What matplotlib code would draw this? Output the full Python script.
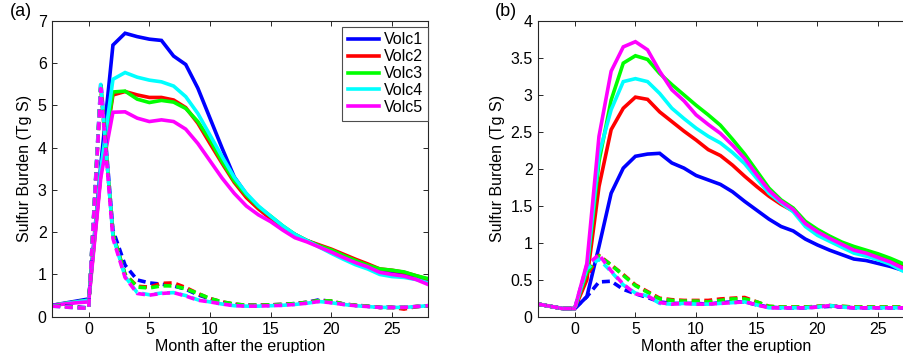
import matplotlib
matplotlib.use("Agg")
import matplotlib.pyplot as plt

plt.rcParams['font.family'] = ['Liberation Sans', 'DejaVu Sans']

months = list(range(-3, 29))
names = ['Volc1', 'Volc2', 'Volc3', 'Volc4', 'Volc5']
colors = ['#0000ff', '#ff0000', '#00ff00', '#00ffff', '#ff00ff']

# panel (a): solid lines
a_solid = [
    [0.27, 0.32, 0.37, 0.42, 3.6, 6.43, 6.71, 6.63, 6.57, 6.54, 6.17, 5.97, 5.41, 4.7, 3.99, 3.31,
     2.9, 2.58, 2.35, 2.12, 1.93, 1.8, 1.68, 1.52, 1.4, 1.28, 1.17, 1.06, 1.04, 1.0, 0.93, 0.82],
    [0.27, 0.31, 0.35, 0.39, 3.4, 5.25, 5.33, 5.25, 5.19, 5.19, 5.13, 4.95, 4.58, 4.1, 3.63, 3.18,
     2.82, 2.55, 2.32, 2.12, 1.95, 1.8, 1.7, 1.6, 1.48, 1.36, 1.25, 1.13, 1.1, 1.05, 0.97, 0.88],
    [0.27, 0.31, 0.35, 0.39, 3.4, 5.32, 5.34, 5.15, 5.07, 5.12, 5.08, 4.93, 4.62, 4.18, 3.67, 3.22,
     2.88, 2.6, 2.38, 2.15, 1.95, 1.8, 1.68, 1.58, 1.45, 1.33, 1.22, 1.13, 1.1, 1.06, 0.97, 0.9],
    [0.27, 0.31, 0.35, 0.39, 3.5, 5.62, 5.78, 5.67, 5.6, 5.56, 5.46, 5.21, 4.81, 4.3, 3.79, 3.3,
     2.92, 2.62, 2.38, 2.15, 1.95, 1.8, 1.65, 1.5, 1.36, 1.23, 1.13, 1.0, 0.95, 0.93, 0.88, 0.8],
    [0.27, 0.3, 0.33, 0.35, 3.3, 4.84, 4.85, 4.7, 4.62, 4.66, 4.62, 4.44, 4.1, 3.69, 3.28, 2.92,
     2.62, 2.41, 2.25, 2.05, 1.87, 1.77, 1.65, 1.53, 1.4, 1.28, 1.18, 1.05, 1.0, 0.96, 0.88, 0.76],
]

# panel (a): dashed lines
a_dash = [
    [0.27, 0.25, 0.23, 0.21, 5.55, 2.05, 1.22, 0.87, 0.8, 0.77, 0.73, 0.65, 0.52, 0.42, 0.34, 0.29,
     0.27, 0.27, 0.28, 0.29, 0.31, 0.34, 0.4, 0.36, 0.3, 0.27, 0.25, 0.22, 0.22, 0.22, 0.24, 0.26],
    [0.26, 0.24, 0.22, 0.2, 5.45, 1.95, 1.0, 0.72, 0.7, 0.79, 0.8, 0.69, 0.55, 0.43, 0.35, 0.3,
     0.27, 0.27, 0.28, 0.29, 0.31, 0.34, 0.38, 0.37, 0.3, 0.27, 0.25, 0.22, 0.22, 0.18, 0.24, 0.26],
    [0.26, 0.24, 0.22, 0.2, 5.45, 1.95, 1.0, 0.7, 0.68, 0.73, 0.73, 0.66, 0.55, 0.43, 0.35, 0.3,
     0.27, 0.27, 0.28, 0.29, 0.31, 0.34, 0.38, 0.37, 0.3, 0.27, 0.25, 0.22, 0.22, 0.22, 0.24, 0.26],
    [0.25, 0.23, 0.21, 0.2, 5.5, 1.9, 0.95, 0.57, 0.52, 0.56, 0.57, 0.5, 0.4, 0.35, 0.3, 0.26,
     0.25, 0.25, 0.26, 0.27, 0.29, 0.32, 0.36, 0.33, 0.29, 0.26, 0.24, 0.22, 0.22, 0.22, 0.24, 0.26],
    [0.25, 0.23, 0.21, 0.2, 5.4, 1.85, 0.93, 0.55, 0.51, 0.55, 0.57, 0.49, 0.39, 0.35, 0.3, 0.26,
     0.25, 0.25, 0.26, 0.27, 0.29, 0.32, 0.36, 0.33, 0.29, 0.26, 0.24, 0.22, 0.22, 0.22, 0.24, 0.26],
]

# panel (b): solid lines
b_solid = [
    [0.17, 0.14, 0.11, 0.11, 0.27, 0.95, 1.67, 2.01, 2.17, 2.2, 2.21, 2.08, 2.01, 1.91, 1.85, 1.79,
     1.69, 1.56, 1.44, 1.32, 1.22, 1.16, 1.05, 0.97, 0.9, 0.84, 0.78, 0.76, 0.72, 0.68, 0.63, 0.58],
    [0.17, 0.14, 0.11, 0.11, 0.5, 1.76, 2.53, 2.82, 2.97, 2.94, 2.77, 2.64, 2.51, 2.39, 2.26, 2.18,
     2.05, 1.9, 1.76, 1.63, 1.52, 1.43, 1.27, 1.17, 1.08, 0.99, 0.92, 0.88, 0.82, 0.76, 0.68, 0.62],
    [0.17, 0.14, 0.11, 0.11, 0.6, 2.1, 2.93, 3.43, 3.53, 3.48, 3.29, 3.14, 3.0, 2.86, 2.73, 2.59,
     2.4, 2.2, 1.97, 1.74, 1.58, 1.47, 1.29, 1.18, 1.09, 1.01, 0.95, 0.9, 0.85, 0.79, 0.72, 0.66],
    [0.17, 0.14, 0.11, 0.11, 0.65, 2.2, 2.8, 3.18, 3.22, 3.18, 3.02, 2.82, 2.68, 2.55, 2.44, 2.35,
     2.22, 2.07, 1.87, 1.67, 1.54, 1.42, 1.22, 1.1, 1.02, 0.94, 0.86, 0.82, 0.77, 0.71, 0.62, 0.56],
    [0.17, 0.14, 0.11, 0.11, 0.72, 2.44, 3.32, 3.65, 3.72, 3.61, 3.32, 3.07, 2.92, 2.73, 2.6, 2.48,
     2.32, 2.14, 1.92, 1.71, 1.56, 1.45, 1.26, 1.15, 1.06, 0.98, 0.9, 0.86, 0.8, 0.74, 0.66, 0.6],
]

# panel (b): dashed lines
b_dash = [
    [0.17, 0.14, 0.11, 0.11, 0.27, 0.47, 0.48, 0.37, 0.31, 0.26, 0.2, 0.18, 0.18, 0.18, 0.17, 0.19,
     0.2, 0.2, 0.16, 0.13, 0.12, 0.12, 0.12, 0.13, 0.14, 0.13, 0.12, 0.12, 0.12, 0.12, 0.12, 0.12],
    [0.17, 0.14, 0.11, 0.11, 0.55, 0.83, 0.7, 0.57, 0.43, 0.34, 0.25, 0.23, 0.22, 0.22, 0.22, 0.24,
     0.25, 0.26, 0.2, 0.14, 0.13, 0.13, 0.13, 0.14, 0.15, 0.14, 0.13, 0.13, 0.13, 0.13, 0.13, 0.13],
    [0.17, 0.14, 0.11, 0.11, 0.6, 0.82, 0.7, 0.56, 0.42, 0.33, 0.24, 0.22, 0.21, 0.21, 0.2, 0.22,
     0.24, 0.24, 0.2, 0.14, 0.13, 0.13, 0.13, 0.14, 0.15, 0.14, 0.13, 0.13, 0.13, 0.13, 0.13, 0.13],
    [0.17, 0.14, 0.11, 0.11, 0.65, 0.78, 0.61, 0.43, 0.32, 0.28, 0.18, 0.17, 0.18, 0.17, 0.17, 0.18,
     0.19, 0.2, 0.16, 0.12, 0.12, 0.12, 0.12, 0.13, 0.15, 0.13, 0.12, 0.12, 0.12, 0.12, 0.12, 0.12],
    [0.17, 0.14, 0.11, 0.11, 0.7, 0.84, 0.62, 0.44, 0.31, 0.28, 0.19, 0.17, 0.18, 0.17, 0.17, 0.18,
     0.19, 0.2, 0.16, 0.12, 0.12, 0.12, 0.12, 0.13, 0.15, 0.13, 0.12, 0.12, 0.12, 0.12, 0.12, 0.12],
]

W, H = 904, 353
fig = plt.figure(figsize=(W / 100, H / 100), dpi=100)
ax_a = fig.add_axes([52.3 / W, 36.3 / H, 376 / W, 295.7 / H])
ax_b = fig.add_axes([538.3 / W, 36.3 / H, 376.3 / W, 295.7 / H])

fs = 11.5
dash = (0, (2.2, 1.3))


def draw(ax, solid, dashed, ymax, yticks, ylabels):
    for vals, c, n in zip(solid, colors, names):
        ax.plot(months, vals, color=c, lw=2.6, label=n, solid_joinstyle='miter')
    for vals, c in zip(dashed, colors):
        ax.plot(months, vals, color=c, lw=2.6, linestyle=dash)
    ax.set_xlim(-3, 28)
    ax.set_ylim(0, ymax)
    ax.set_xticks([0, 5, 10, 15, 20, 25])
    ax.set_yticks(yticks)
    ax.set_yticklabels(ylabels)
    ax.tick_params(direction='in', length=3.5, width=0.7, top=True, right=True,
                   labelsize=fs, colors='0.15', labelcolor='black', pad=4)
    for s in ax.spines.values():
        s.set_color('0.15')
        s.set_linewidth(0.8)
    ax.set_xlabel('Month after the eruption', fontsize=fs, labelpad=1)
    ax.set_ylabel('Sulfur Burden (Tg S)', fontsize=fs, labelpad=4)


draw(ax_a, a_solid, a_dash, 7, range(0, 8), [str(v) for v in range(0, 8)])
draw(ax_b, b_solid, b_dash, 4, [0, 0.5, 1, 1.5, 2, 2.5, 3, 3.5, 4],
     ['0', '0.5', '1', '1.5', '2', '2.5', '3', '3.5', '4'])

leg = ax_a.legend(loc='upper right', bbox_to_anchor=(1.0, 1 - 5.7 / 295.7), borderaxespad=0,
                  fontsize=fs, fancybox=False, framealpha=1, edgecolor='0.3',
                  handlelength=2.0, handletextpad=0.25, labelspacing=0.12, borderpad=0.35)
leg.get_frame().set_linewidth(0.8)

fig.text(10 / W, 1 - 12 / H, '(a)', fontsize=13, va='center', ha='left')
fig.text(495 / W, 1 - 12 / H, '(b)', fontsize=13, va='center', ha='left')

fig.savefig('out.png', dpi=100)
